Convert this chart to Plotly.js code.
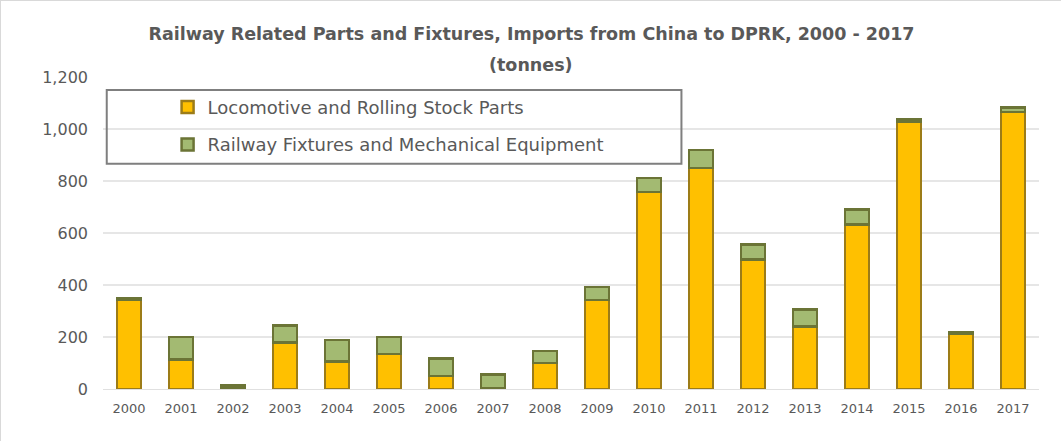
<!DOCTYPE html>
<html>
<head>
<meta charset="utf-8">
<script src="https://cdn.plot.ly/plotly-3.0.1.min.js"></script>
<style>
html,body{margin:0;padding:0;background:#fff;}
#chart{width:1061px;height:441px;box-sizing:border-box;border:1px solid #d9d9d9;}
</style>
</head>
<body>
<div id="chart"></div>
<script>
const years = ['2000','2001','2002','2003','2004','2005','2006','2007','2008','2009','2010','2011','2012','2013','2014','2015','2016','2017'];
const locomotiveParts = [345, 113, 4, 178, 106, 135, 50, 3, 100, 342, 758, 850, 498, 240, 633, 1026, 211, 1066];
const railwayFixtures = [5, 87, 9, 67, 83, 65, 68, 52, 46, 50, 53, 70, 58, 66, 58, 10, 8, 16];
const yTicks = [0, 200, 400, 600, 800, 1000, 1200];
const yTickLabels = ['0', '200', '400', '600', '800', '1,000', '1,200'];

const FONT = '"DejaVu Sans", sans-serif';

const traces = [
  {
    type: 'bar', name: 'Locomotive and Rolling Stock Parts',
    x: years, y: locomotiveParts, legendgroup: 'a',
    marker: {color: '#FFC000', line: {color: '#9C7C18', width: 2.5}},
    hoverinfo: 'x+y+name'
  },
  {
    type: 'bar', name: 'Railway Fixtures and Mechanical Equipment',
    x: years, y: railwayFixtures, legendgroup: 'b',
    marker: {color: '#A3BA72', line: {color: '#6B7436', width: 2.5}},
    hoverinfo: 'x+y+name'
  }
];

const layout = {
  width: 1061, height: 441,
  paper_bgcolor: '#ffffff', plot_bgcolor: '#ffffff',
  barmode: 'stack', bargap: 0.54,
  margin: {l: 102, r: 23, t: 76, b: 53},
  font: {family: FONT, color: '#595959'},
  title: {
    text: '<b>Railway Related Parts and Fixtures, Imports from China to DPRK, 2000 - 2017</b>',
    font: {family: FONT, size: 17.5, color: '#595959'},
    x: 0.5, xanchor: 'center', y: 0.925, yanchor: 'middle'
  },
  annotations: [{
    text: '<b>(tonnes)</b>', showarrow: false,
    xref: 'paper', yref: 'paper', x: 0.457, y: 1.04, xanchor: 'center', yanchor: 'middle',
    font: {family: FONT, size: 17.5, color: '#595959'}
  }],
  xaxis: {
    type: 'category', tickfont: {size: 13, color: '#595959', family: FONT},
    showgrid: false, zeroline: false, showline: false, ticks: '', ticklen: 0,
    ticklabelstandoff: 10
  },
  yaxis: {
    range: [0, 1200], tickvals: yTicks, ticktext: yTickLabels,
    tickfont: {size: 16, color: '#595959', family: FONT},
    showgrid: true, gridcolor: '#e6e6e6', gridwidth: 1.5,
    zeroline: true, zerolinecolor: '#e0e0e0', showline: false, ticks: '',
    ticklabelstandoff: 14
  },
  legend: {
    x: 0.069, xanchor: 'left', y: 0.962, yanchor: 'top',
    bgcolor: 'rgba(0,0,0,0)', borderwidth: 0,
    font: {family: FONT, size: 18, color: '#595959'},
    traceorder: 'grouped', tracegroupgap: 11, itemwidth: 30
  },
  shapes: [{
    type: 'rect', xref: 'paper', yref: 'paper',
    x0: 0.004, x1: 0.618, y0: 0.722, y1: 0.958,
    line: {color: '#7f7f7f', width: 2}, fillcolor: 'rgba(0,0,0,0)', layer: 'above'
  }]
};

Plotly.newPlot('chart', traces, layout, {displayModeBar: false, staticPlot: true});
</script>
</body>
</html>
